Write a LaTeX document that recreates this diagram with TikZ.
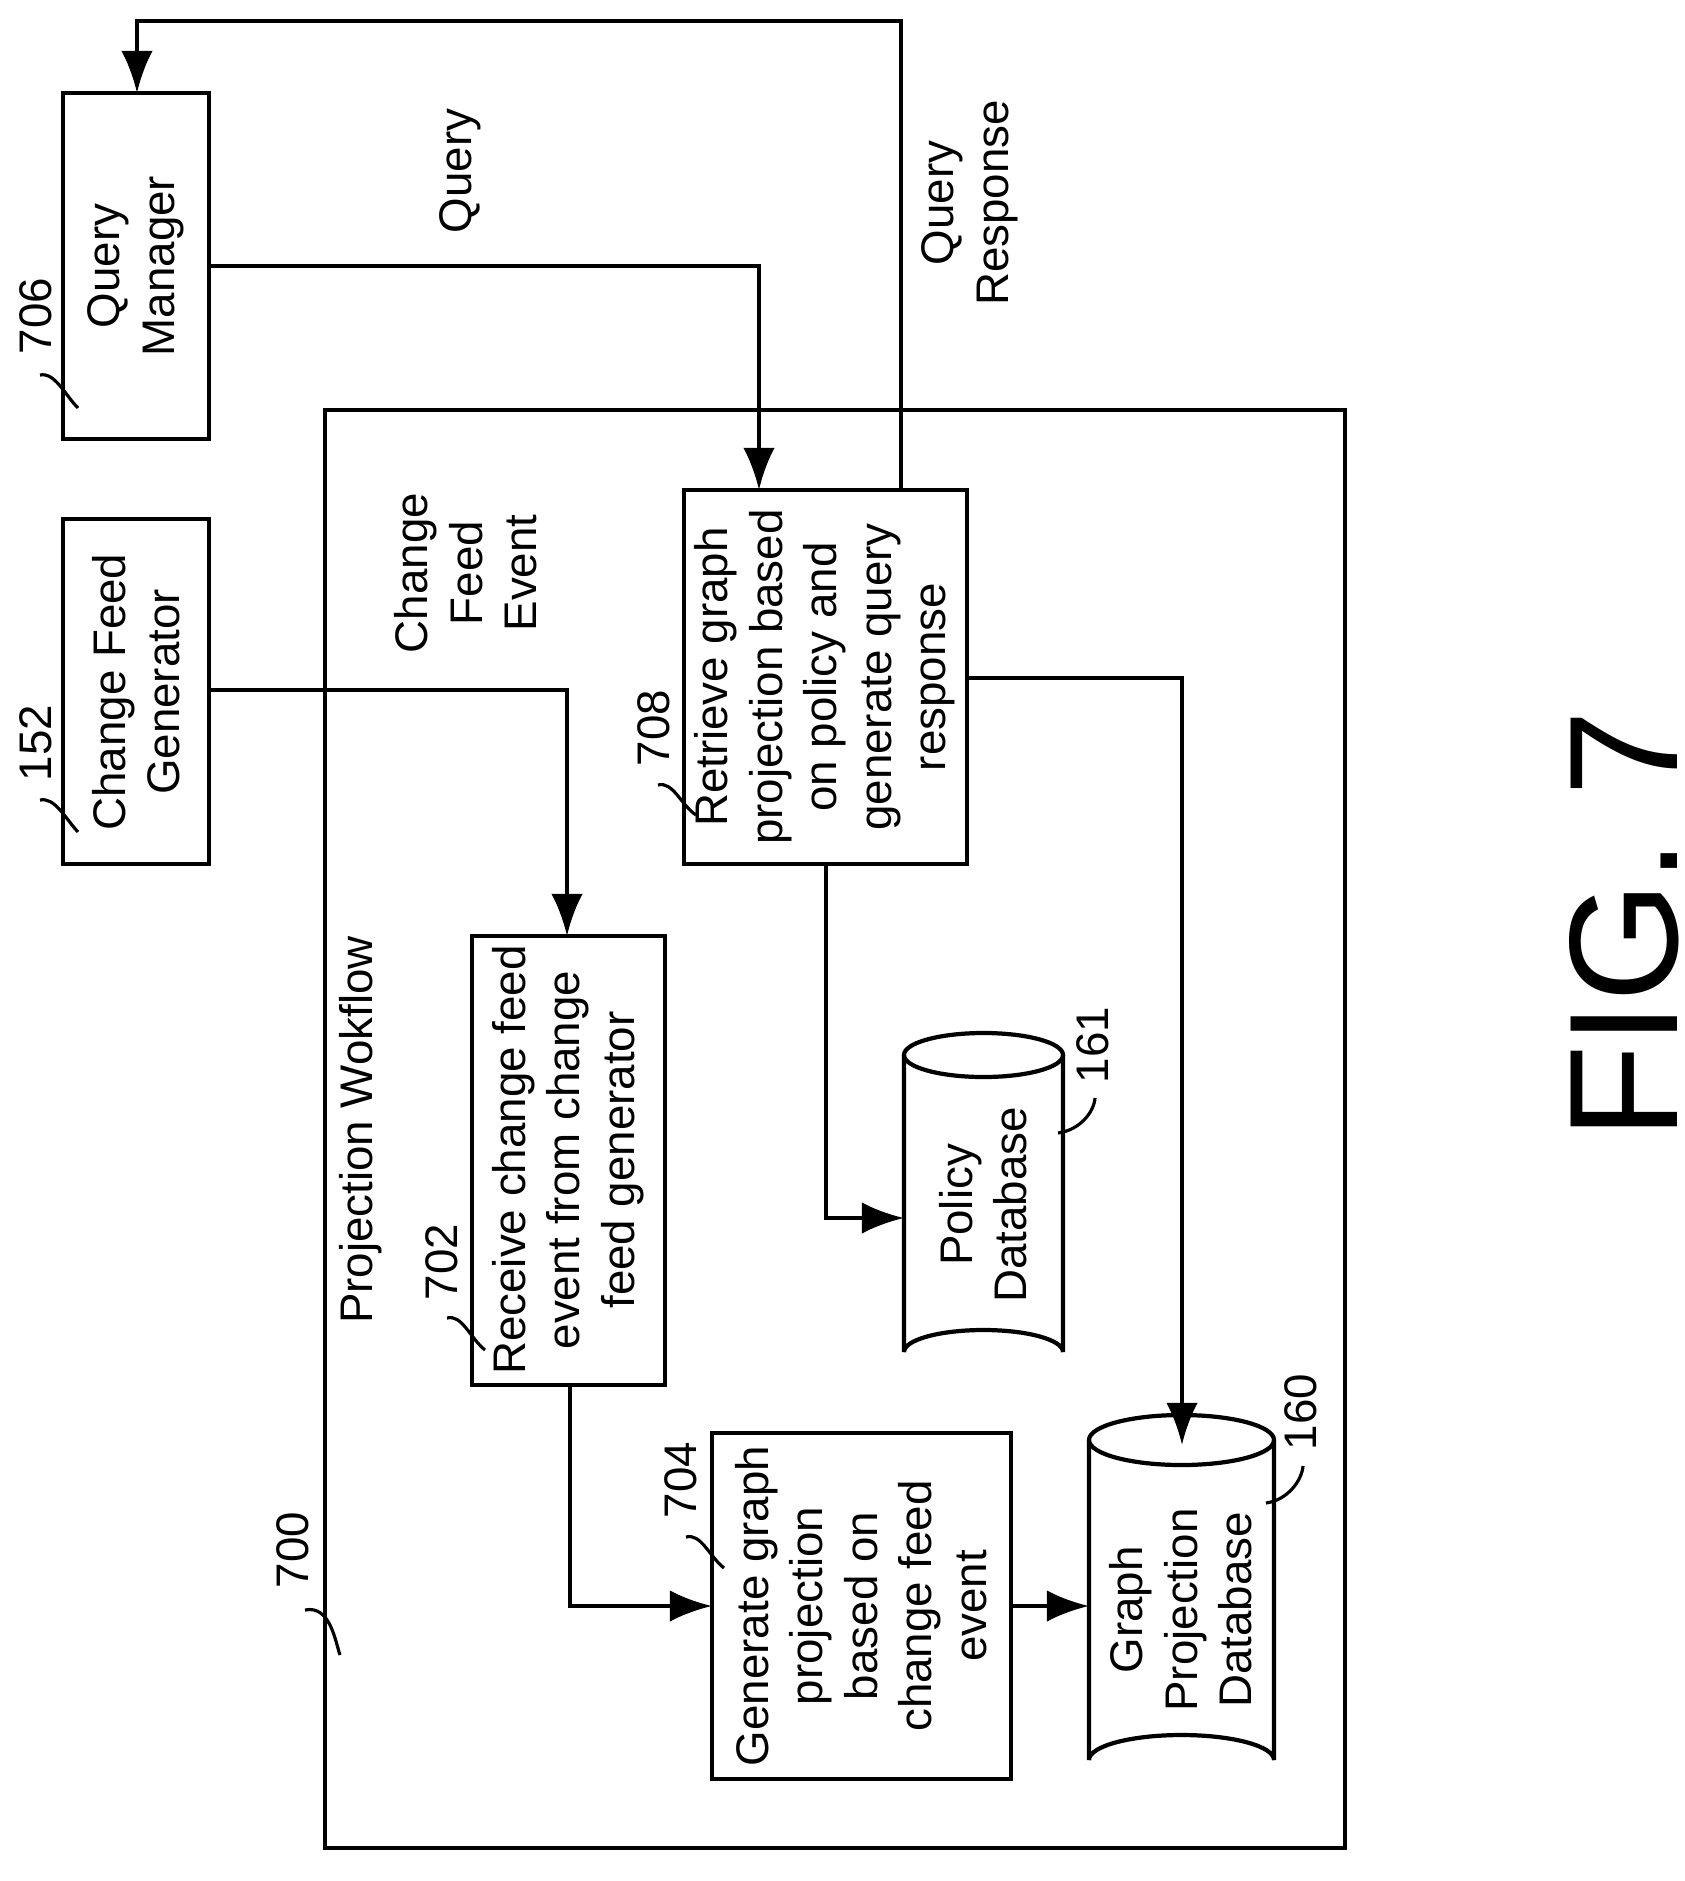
\documentclass[tikz,border=0pt]{standalone}
\usepackage{fontspec}
\setmainfont{Liberation Sans}
\usetikzlibrary{calc, positioning, arrows.meta}
\tikzset{
  font=\fontsize{13}{15.5}\selectfont,
  >=latex,
  % process box
  box/.style={draw, line width=1.2pt},
  % rotated text
  rtext/.style={rotate=90, align=center, inner sep=0pt},
  % connectors
  flow/.style={line width=1.2pt, ->, >={Latex[length=12pt, width=9pt]}},
  % reference leaders
  lead/.style={line width=0.9pt},
}
\begin{document}
\begin{tikzpicture}[x=0.01cm, y=-0.01cm]
  \useasboundingbox (0,0) rectangle (1684,1881);

  % frame 700
  \draw[box] (325,410) rectangle (1345,1848);
  \node[rtext] (t700) at (293,1550) {700};
  \draw[lead] (305,1610) .. controls (330,1605) and (335,1640) .. (340,1655);
  \node[rtext] (wflow) at (361,1130) {Projection Wokflow};

  % boxes
  \draw[box] (63,93) rectangle (209,439);
  \node[rtext] (qm) at (136,266) {Query\\Manager};
  \draw[box] (63,519) rectangle (209,864);
  \node[rtext] (cfg) at (136,692) {Change Feed\\Generator};
  \draw[box] (472,936) rectangle (665,1385);
  \node[rtext] (recv) at (568,1160) {Receive change feed\\event from change\\feed generator};
  \draw[box] (712,1433) rectangle (1011,1779);
  \node[rtext] (gen) at (861,1606) {Generate graph\\projection\\based on\\change feed\\event};
  \draw[box] (684,490) rectangle (967,864);
  \node[rtext] (ret) at (825,677) {Retrieve graph\\projection based\\on policy and\\generate query\\response};

  % databases
  \draw[box] (904,1055) -- (904,1352) arc[start angle=180, end angle=360, x radius=79.5, y radius=22] -- (1063,1055);
  \draw[box] (983.5,1055) ellipse [x radius=79.5, y radius=22];
  \node[rtext] (pdb) at (983,1205) {Policy\\Database};
  \draw[box] (1089,1440) -- (1089,1760) arc[start angle=180, end angle=360, x radius=92.5, y radius=25] -- (1274,1440);
  \draw[box] (1181.5,1440) ellipse [x radius=92.5, y radius=25];
  \node[rtext] (gdb) at (1181,1610) {Graph\\Projection\\Database};

  % reference numerals
  \node[rtext] (r706) at (36,316) {706};
  \draw[lead] (40,375) .. controls (55,372) and (65,395) .. (78,408);
  \node[rtext] (r152) at (36,743) {152};
  \draw[lead] (40,800) .. controls (55,797) and (65,818) .. (78,832);
  \node[rtext] (r702) at (442,1262) {702};
  \draw[lead] (447,1318) .. controls (462,1314) and (470,1338) .. (485,1350);
  \node[rtext] (r704) at (681,1480) {704};
  \draw[lead] (686,1537) .. controls (701,1533) and (709,1556) .. (724,1568);
  \node[rtext] (r708) at (654,728) {708};
  \draw[lead] (658,785) .. controls (673,781) and (681,805) .. (696,815);
  \node[rtext] (r161) at (1093,1045) {161};
  \draw[lead] (1095,1098) .. controls (1094,1112) and (1080,1130) .. (1058,1133);
  \node[rtext] (r160) at (1301,1412) {160};
  \draw[lead] (1303,1466) .. controls (1302,1480) and (1288,1500) .. (1266,1503);

  % connector labels
  \node[rtext] (lq) at (460,171) {Query};
  \node[rtext] (lqr) at (970,203) {Query\\Response};
  \node[rtext] (lcfe) at (466,573) {Change\\Feed\\Event};

  % connectors
  \coordinate (c1) at (759,266);
  \draw[flow] (209,266) -- (c1) -- (759,490);
  \coordinate (c2) at (901,21);
  \coordinate (c3) at (137,21);
  \draw[flow] (901,490) -- (c2) -- (c3) -- (137,93);
  \draw[flow] (209,690) -- (567,690) -- (567,936);
  \draw[flow] (570,1385) -- (570,1606) -- (712,1606);
  \draw[flow] (1011,1606) -- (1089,1606);
  \draw[flow] (826,864) -- (826,1218) -- (904,1218);
  \draw[flow] (967,678) -- (1182,678) -- (1182,1445);

  \node[rotate=90, font=\fontsize{44}{50}\selectfont] (fig) at (1624,925) {FIG. 7};
\end{tikzpicture}
\end{document}
